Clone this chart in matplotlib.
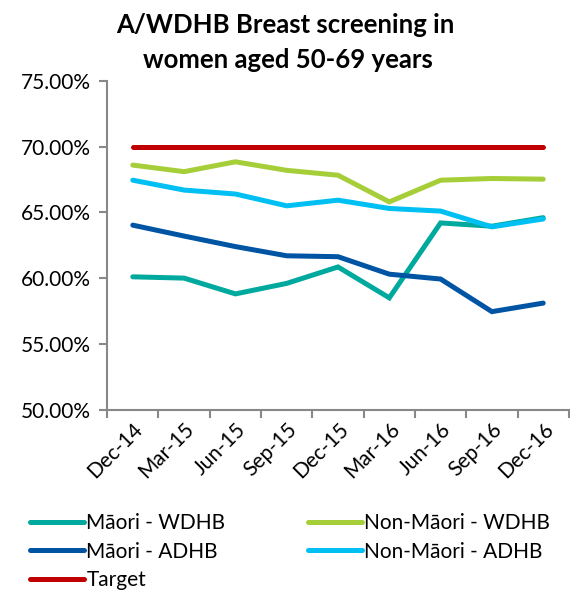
import numpy as np
import matplotlib.pyplot as plt
from matplotlib.ticker import FixedLocator, PercentFormatter

plt.rcParams['font.family'] = ['Lato', 'DejaVu Sans']

# Данные
quarters = ['Dec-14', 'Mar-15', 'Jun-15', 'Sep-15', 'Dec-15', 'Mar-16', 'Jun-16', 'Sep-16', 'Dec-16']
maori_wdhb = [60.1, 60.0, 58.8, 59.6, 60.85, 58.5, 64.2, 63.95, 64.6]
non_maori_wdhb = [68.6, 68.1, 68.85, 68.2, 67.83, 65.8, 67.45, 67.58, 67.53]
maori_adhb = [64.03, 63.2, 62.4, 61.7, 61.63, 60.3, 59.93, 57.45, 58.1]
non_maori_adhb = [67.45, 66.7, 66.4, 65.5, 65.93, 65.3, 65.1, 63.9, 64.5]
target = [70.0] * 9

series = [
    ('Māori - WDHB', maori_wdhb, '#00A99D'),
    ('Non-Māori - WDHB', non_maori_wdhb, '#A6CE39'),
    ('Māori - ADHB', maori_adhb, '#0054A4'),
    ('Non-Māori - ADHB', non_maori_adhb, '#00BFF3'),
    ('Target', target, '#C00000'),
]

fig = plt.figure(figsize=(5.7, 5.91), dpi=100)
ax = fig.add_axes([0.188, 0.307, 0.81, 0.556])

x = np.arange(len(quarters))
for name, vals, col in series:
    ax.plot(x, vals, color=col, lw=3.6, solid_capstyle='round', solid_joinstyle='miter', label=name)

ax.set_xlim(-0.5, len(quarters) - 0.5)
ax.set_ylim(50, 75)
ax.set_yticks(np.arange(50, 76, 5))
ax.yaxis.set_major_formatter(PercentFormatter(decimals=2))

# подписи по центру категорий, засечки между ними
ax.xaxis.set_major_locator(FixedLocator(np.arange(-0.5, len(quarters), 1.0)))
ax.set_xticklabels([])
ax.set_xticks(x, minor=True)
ax.set_xticklabels(quarters, minor=True, rotation=45, ha='right', rotation_mode='anchor', fontsize=15)
ax.tick_params(axis='x', which='minor', length=0, pad=7)
ax.tick_params(axis='x', which='major', length=6, width=1.5, color='#888888', direction='out')
ax.tick_params(axis='y', length=6, width=1.5, color='#888888', labelsize=15, pad=6)

for s in ['top', 'right']:
    ax.spines[s].set_visible(False)
for s in ['left', 'bottom']:
    ax.spines[s].set_color('#888888')
    ax.spines[s].set_linewidth(1.5)

fig.text(0.5, 0.958, 'A/WDHB Breast screening in', ha='center', va='center',
         fontsize=18.5, fontweight='bold')
fig.text(0.505, 0.899, 'women aged 50-69 years', ha='center', va='center',
         fontsize=18.5, fontweight='bold')

handles, labels = ax.get_legend_handles_labels()
order = [0, 2, 4, 1, 3]
fig.legend([handles[i] for i in order], [labels[i] for i in order],
           loc='lower left', bbox_to_anchor=(0.02, -0.03), ncol=2, frameon=False,
           fontsize=15, handlelength=2.6, handletextpad=0.1, columnspacing=3.95,
           labelspacing=0.4)

fig.savefig('out.png', dpi=100)
